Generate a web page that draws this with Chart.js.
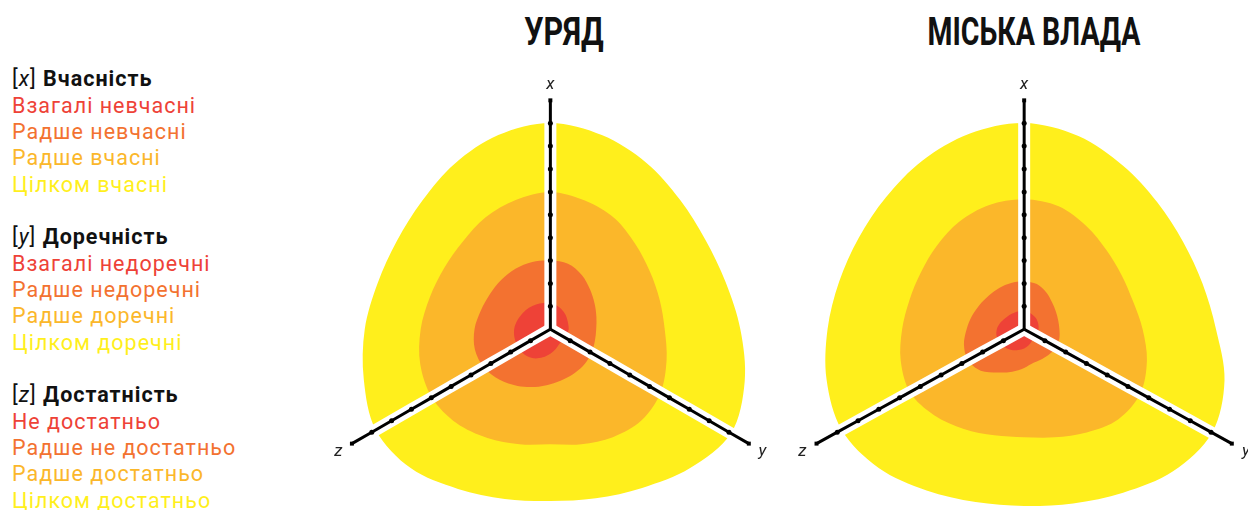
<!DOCTYPE html>
<html lang="uk">
<head>
<meta charset="utf-8">
<script src="https://cdn.jsdelivr.net/npm/chart.js@4.4.1/dist/chart.umd.min.js"></script>
<style>
  html, body { margin: 0; padding: 0; background: #fff; }
  body { width: 1248px; height: 510px; position: relative; overflow: hidden; font-family: Roboto, "Noto Sans", sans-serif; }
  .title { position: absolute; top: 13px; font: 700 38px/38px Roboto, sans-serif; color: #111; white-space: nowrap; transform-origin: center top; }
  #legend { position: absolute; left: 12px; top: 66.2px; font: 400 21.5px/26.35px Roboto, sans-serif; letter-spacing: 1px; white-space: nowrap; }
  #legend .h { color: #111; }
  #legend .h b { font-weight: 700; }
  canvas { position: absolute; }
</style>
</head>
<body>
<div id="legend"></div>
<div class="title" id="t1"></div>
<div class="title" id="t2"></div>
<canvas id="c1" width="485" height="450" style="left:300px; top:60px;"></canvas>
<canvas id="c2" width="463" height="450" style="left:785px; top:60px;"></canvas>
<script>
// ---------------- DATA ----------------
const chartTitles = ['УРЯД', 'МІСЬКА ВЛАДА'];
const axisNames = ['x', 'y', 'z'];
const axisAngles = [0, 120, 240];            // degrees clockwise from top
const axisTicks = [0, 0.1, 0.2, 0.3, 0.4, 0.5, 0.6, 0.7, 0.8, 0.9, 1.0];
const axisTitles = ['Вчасність', 'Доречність', 'Достатність'];
const levelLabelsX = ['Взагалі невчасні', 'Радше невчасні', 'Радше вчасні', 'Цілком вчасні'];
const levelLabelsY = ['Взагалі недоречні', 'Радше недоречні', 'Радше доречні', 'Цілком доречні'];
const levelLabelsZ = ['Не достатньо', 'Радше не достатньо', 'Радше достатньо', 'Цілком достатньо'];
const levelColors = ['#EE4237', '#F37230', '#FBB72A', '#FFEF1C'];

// contour directions (degrees clockwise from the x axis)
const contourAngles = [0,15,30,45,60,75,90,105,120,135,150,165,180,195,210,225,240,255,270,285,300,315,330,345];

// УРЯД – contour radii (axis length = 1)
const govRed    = [0.113,0.107,0.099,0.092,0.085,0.081,0.080,0.077,0.074,0.072,0.076,0.090,0.107,0.127,0.147,0.158,0.161,0.161,0.158,0.149,0.140,0.132,0.125,0.119];
const govDark   = [0.300,0.296,0.274,0.245,0.223,0.208,0.200,0.201,0.207,0.213,0.218,0.226,0.240,0.261,0.286,0.313,0.335,0.341,0.331,0.314,0.305,0.304,0.305,0.304];
const govLight  = [0.600,0.582,0.560,0.525,0.502,0.494,0.499,0.525,0.555,0.563,0.545,0.521,0.503,0.520,0.549,0.580,0.597,0.588,0.566,0.544,0.535,0.541,0.565,0.585];
const govYellow = [0.901,0.877,0.839,0.800,0.781,0.792,0.829,0.878,0.910,0.860,0.801,0.765,0.751,0.768,0.806,0.860,0.880,0.843,0.810,0.780,0.773,0.792,0.835,0.878];

// МІСЬКА ВЛАДА – contour radii
const cityRed    = [0.079,0.075,0.072,0.069,0.065,0.062,0.060,0.057,0.054,0.053,0.062,0.073,0.084,0.094,0.105,0.113,0.117,0.119,0.114,0.104,0.093,0.087,0.083,0.081];
const cityDark   = [0.208,0.204,0.185,0.165,0.153,0.147,0.147,0.152,0.154,0.152,0.150,0.152,0.169,0.192,0.218,0.256,0.271,0.260,0.240,0.225,0.214,0.208,0.208,0.209];
const cityLight  = [0.568,0.556,0.520,0.487,0.470,0.470,0.494,0.530,0.560,0.556,0.521,0.489,0.472,0.480,0.503,0.531,0.550,0.533,0.509,0.495,0.497,0.515,0.542,0.562];
const cityYellow = [0.901,0.874,0.825,0.785,0.765,0.770,0.800,0.865,0.905,0.878,0.825,0.788,0.772,0.782,0.814,0.858,0.879,0.853,0.820,0.799,0.797,0.815,0.850,0.884];

// ---------------- LEGEND / TITLES ----------------
(function () {
  const groups = [levelLabelsX, levelLabelsY, levelLabelsZ];
  let html = '';
  groups.forEach((labels, g) => {
    if (g > 0) html += '<div>&nbsp;</div>';
    html += '<div class="h">[<i>' + axisNames[g] + '</i>] <b>' + axisTitles[g] + '</b></div>';
    labels.forEach((l, i) => { html += '<div style="color:' + levelColors[i] + '">' + l + '</div>'; });
  });
  document.getElementById('legend').innerHTML = html;
  const t1 = document.getElementById('t1'), t2 = document.getElementById('t2');
  t1.textContent = chartTitles[0]; t2.textContent = chartTitles[1];
  t1.style.left = '563.5px'; t1.style.transform = 'translateX(-50%) scaleX(0.8)';
  t2.style.left = '1034px'; t2.style.transform = 'translateX(-50%) scaleX(0.75)';
})();

// ---------------- CHARTS ----------------
const rad = d => d * Math.PI / 180;
function polar(r, deg) { return { x: r * Math.sin(rad(deg)), y: r * Math.cos(rad(deg)) }; }
function contour(radii) {
  const pts = radii.map((r, i) => polar(r, contourAngles[i]));
  const n = pts.length;
  // wrap around so the spline stays smooth where the loop closes
  return [pts[n - 1]].concat(pts, [pts[0], pts[1]]);
}

const axisLabelPlugin = {
  id: 'axisLabels',
  afterDatasetsDraw(chart) {
    const ctx = chart.ctx, sx = chart.scales.x, sy = chart.scales.y;
    ctx.save();
    ctx.font = 'italic 17px Roboto, sans-serif';
    ctx.fillStyle = '#222';
    ctx.textAlign = 'center';
    ctx.textBaseline = 'middle';
    axisNames.forEach((n, i) => {
      const p = polar(1.068, axisAngles[i]);
      ctx.fillText(n, sx.getPixelForValue(p.x), sy.getPixelForValue(p.y));
    });
    ctx.restore();
  }
};

function makeChart(id, radiiSets, cx, cy, rx, ry) {
  const canvas = document.getElementById(id);
  const W = canvas.width, H = canvas.height;
  const datasets = [];
  radiiSets.forEach((radii, i) => {
    datasets.push({
      data: contour(radii), showLine: true, fill: 'shape', tension: 0.33,
      backgroundColor: levelColors[i], borderWidth: 0, borderColor: levelColors[i],
      pointRadius: 0, order: 10 + i
    });
  });
  axisAngles.forEach(a => {
    const pts = axisTicks.map(t => polar(t, a));
    datasets.push({ data: pts, showLine: true, fill: false, tension: 0, borderColor: '#ffffff',
      borderWidth: 12, borderCapStyle: 'round', pointRadius: 0, order: 5, clip: false });
  });
  axisAngles.forEach(a => {
    const pts = axisTicks.map(t => polar(t, a));
    datasets.push({ data: pts, showLine: true, fill: false, tension: 0, borderColor: '#000',
      borderWidth: 3, borderCapStyle: 'butt', order: 1, clip: false,
      pointRadius: c => c.dataIndex === 0 ? 0 : (c.dataIndex === axisTicks.length - 1 ? 2.8 : 2.5),
      pointStyle: c => c.dataIndex === axisTicks.length - 1 ? 'rect' : 'circle',
      pointBackgroundColor: '#000', pointBorderWidth: 0 });
  });
  return new Chart(canvas, {
    type: 'scatter',
    data: { datasets },
    options: {
      responsive: false, animation: false, devicePixelRatio: 1, events: [],
      layout: { padding: 0 },
      plugins: { legend: { display: false }, tooltip: { enabled: false } },
      scales: {
        x: { type: 'linear', display: false, min: -cx / rx, max: (W - cx) / rx },
        y: { type: 'linear', display: false, min: -(H - cy) / ry, max: cy / ry }
      }
    },
    plugins: [axisLabelPlugin]
  });
}

makeChart('c1', [govRed, govDark, govLight, govYellow], 250.5, 270, 233, 233);
makeChart('c2', [cityRed, cityDark, cityLight, cityYellow], 239.3, 270, 244, 233);
</script>
</body>
</html>
